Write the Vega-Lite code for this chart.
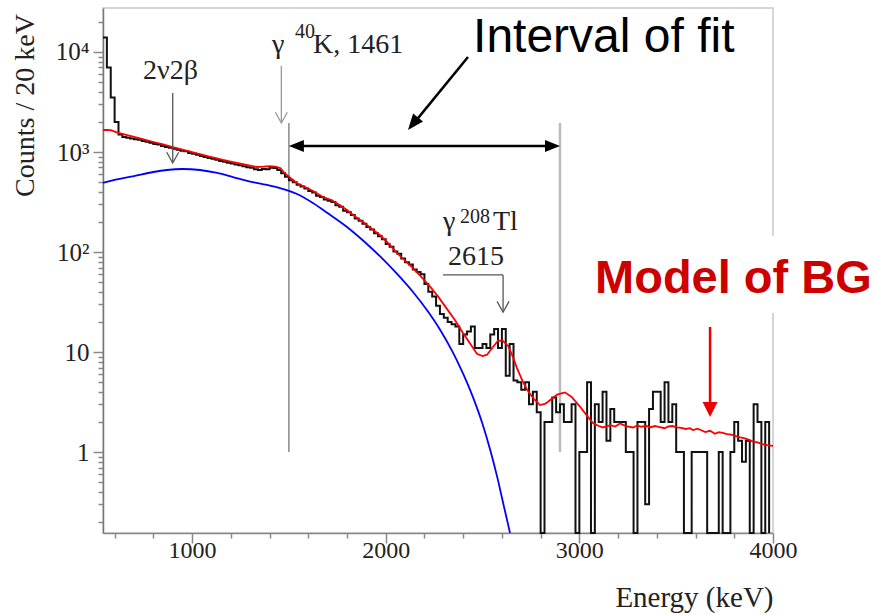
{
  "$schema": "https://vega.github.io/schema/vega-lite/v6.json",
  "width": 670,
  "height": 525,
  "autosize": {"type": "none"},
  "padding": {"left": 103, "top": 8, "right": 103, "bottom": 82},
  "background": "white",
  "config": {
    "view": {"stroke": "#c8c8c8", "strokeWidth": 1.5},
    "axis": {"grid": false}
  },
  "datasets": {
    "hist": [
      {"E":540,"n":14000},{"E":560,"n":7000},{"E":580,"n":3500},{"E":600,"n":2000},{"E":620,"n":1500},
      {"E":640,"n":1410},{"E":660,"n":1385},{"E":680,"n":1365},{"E":700,"n":1345},{"E":720,"n":1325},
      {"E":740,"n":1290},{"E":760,"n":1265},{"E":780,"n":1240},{"E":800,"n":1200},{"E":820,"n":1190},
      {"E":840,"n":1150},{"E":860,"n":1125},{"E":880,"n":1105},{"E":900,"n":1075},{"E":920,"n":1055},
      {"E":940,"n":1030},{"E":960,"n":1015},{"E":980,"n":980},{"E":1000,"n":960},{"E":1020,"n":940},
      {"E":1040,"n":912},{"E":1060,"n":893},{"E":1080,"n":869},{"E":1100,"n":854},{"E":1120,"n":835},
      {"E":1140,"n":811},{"E":1160,"n":797},{"E":1180,"n":782},{"E":1200,"n":768},{"E":1220,"n":749},
      {"E":1240,"n":739},{"E":1260,"n":720},{"E":1280,"n":706},{"E":1300,"n":696},{"E":1320,"n":672},
      {"E":1340,"n":662},{"E":1360,"n":677},{"E":1380,"n":672},{"E":1400,"n":696},{"E":1420,"n":691},
      {"E":1440,"n":662},{"E":1460,"n":614},{"E":1480,"n":566},{"E":1500,"n":523},{"E":1520,"n":499},
      {"E":1540,"n":470},{"E":1560,"n":451},{"E":1580,"n":432},{"E":1600,"n":408},{"E":1620,"n":394},
      {"E":1640,"n":365},{"E":1660,"n":355},{"E":1680,"n":336},{"E":1700,"n":326},{"E":1720,"n":317},
      {"E":1740,"n":293},{"E":1760,"n":283},{"E":1780,"n":259},{"E":1800,"n":250},{"E":1820,"n":235},
      {"E":1840,"n":216},{"E":1860,"n":206},{"E":1880,"n":192},{"E":1900,"n":178},{"E":1920,"n":168},
      {"E":1940,"n":154},{"E":1960,"n":144},{"E":1980,"n":134},{"E":2000,"n":120},{"E":2020,"n":113},
      {"E":2040,"n":101},{"E":2060,"n":96},{"E":2080,"n":86},{"E":2100,"n":79},{"E":2120,"n":75},
      {"E":2140,"n":67},{"E":2160,"n":63},{"E":2180,"n":60},{"E":2200,"n":48},{"E":2220,"n":40},
      {"E":2240,"n":36},{"E":2260,"n":29},{"E":2280,"n":24},{"E":2300,"n":22},{"E":2320,"n":20},
      {"E":2340,"n":19},{"E":2360,"n":18},{"E":2380,"n":12},{"E":2400,"n":15},{"E":2420,"n":16},
      {"E":2440,"n":18},{"E":2460,"n":11},{"E":2480,"n":11},{"E":2500,"n":12},{"E":2520,"n":11},
      {"E":2540,"n":15},{"E":2560,"n":17},{"E":2580,"n":11},{"E":2600,"n":17},{"E":2620,"n":5.8},
      {"E":2640,"n":12},{"E":2660,"n":5.2},{"E":2680,"n":5},{"E":2700,"n":4.2},{"E":2720,"n":5},
      {"E":2740,"n":3},{"E":2760,"n":4},{"E":2780,"n":2.5},{"E":2800,"n":0},{"E":2820,"n":2},
      {"E":2840,"n":2},{"E":2860,"n":3.5},{"E":2880,"n":2.5},{"E":2900,"n":3},{"E":2920,"n":2},
      {"E":2940,"n":2},{"E":2960,"n":3},{"E":2980,"n":0},{"E":3000,"n":1},{"E":3020,"n":1},
      {"E":3040,"n":5},{"E":3060,"n":0},{"E":3080,"n":3},{"E":3100,"n":2},{"E":3120,"n":4},
      {"E":3140,"n":1.3},{"E":3160,"n":2.7},{"E":3180,"n":2},{"E":3200,"n":2},{"E":3220,"n":2},
      {"E":3240,"n":1},{"E":3260,"n":1},{"E":3280,"n":0},{"E":3300,"n":2},{"E":3320,"n":2},
      {"E":3340,"n":0.3},{"E":3360,"n":2.7},{"E":3380,"n":4},{"E":3400,"n":4},{"E":3420,"n":2},
      {"E":3440,"n":5},{"E":3460,"n":2},{"E":3480,"n":3},{"E":3500,"n":1},{"E":3520,"n":1},
      {"E":3540,"n":0},{"E":3560,"n":0},{"E":3580,"n":1},{"E":3600,"n":1},{"E":3620,"n":1},
      {"E":3640,"n":1},{"E":3660,"n":0},{"E":3680,"n":0},{"E":3700,"n":0},{"E":3720,"n":1},
      {"E":3740,"n":0},{"E":3760,"n":0},{"E":3780,"n":1},{"E":3800,"n":2},{"E":3820,"n":1.3},
      {"E":3840,"n":0.8},{"E":3860,"n":1.3},{"E":3880,"n":0},{"E":3900,"n":3},{"E":3920,"n":2},
      {"E":3940,"n":0},{"E":3960,"n":2},{"E":3980,"n":0}
    ],
    "model": [
      {"E":540,"n":1660},{"E":560,"n":1665},{"E":580,"n":1655},{"E":600,"n":1600},{"E":620,"n":1550},
      {"E":660,"n":1480},{"E":700,"n":1413},{"E":750,"n":1334},{"E":800,"n":1259},{"E":850,"n":1189},
      {"E":900,"n":1122},{"E":950,"n":1059},{"E":1000,"n":1000},{"E":1050,"n":944},{"E":1100,"n":891},
      {"E":1160,"n":832},{"E":1200,"n":803},{"E":1250,"n":766},{"E":1300,"n":731},{"E":1335,"n":708},
      {"E":1370,"n":714},{"E":1400,"n":724},{"E":1430,"n":716},{"E":1455,"n":690},{"E":1475,"n":625},
      {"E":1500,"n":565},{"E":1540,"n":490},{"E":1580,"n":450},{"E":1620,"n":412},{"E":1676,"n":355},
      {"E":1720,"n":331},{"E":1760,"n":297},{"E":1800,"n":263},{"E":1840,"n":228},{"E":1883,"n":200},
      {"E":1925,"n":172},{"E":1970,"n":148},{"E":2015,"n":121},{"E":2058,"n":98},{"E":2100,"n":82},
      {"E":2141,"n":69},{"E":2185,"n":56},{"E":2229,"n":45},{"E":2270,"n":36},{"E":2316,"n":27},
      {"E":2360,"n":20.5},{"E":2399,"n":15.5},{"E":2440,"n":11.8},{"E":2471,"n":9.6},{"E":2500,"n":9.1},
      {"E":2523,"n":9.4},{"E":2555,"n":11.3},{"E":2580,"n":13.0},{"E":2605,"n":12.9},{"E":2632,"n":11.5},
      {"E":2655,"n":9.1},{"E":2678,"n":6.9},{"E":2705,"n":5.2},{"E":2730,"n":4.2},{"E":2765,"n":3.4},
      {"E":2797,"n":2.95},{"E":2825,"n":3.05},{"E":2848,"n":3.3},{"E":2885,"n":3.75},{"E":2926,"n":3.95},
      {"E":2960,"n":3.55},{"E":3003,"n":2.85},{"E":3040,"n":2.3},{"E":3070,"n":1.95},{"E":3100,"n":1.82},
      {"E":3122,"n":1.76},{"E":3160,"n":1.86},{"E":3185,"n":1.80},{"E":3210,"n":1.93},{"E":3240,"n":1.82},
      {"E":3277,"n":1.76},{"E":3300,"n":1.84},{"E":3320,"n":1.79},{"E":3345,"n":1.83},{"E":3365,"n":1.76},
      {"E":3390,"n":1.82},{"E":3410,"n":1.78},{"E":3440,"n":1.73},{"E":3460,"n":1.80},{"E":3480,"n":1.82},
      {"E":3504,"n":1.76},{"E":3525,"n":1.74},{"E":3550,"n":1.70},{"E":3570,"n":1.73},{"E":3587,"n":1.66},
      {"E":3610,"n":1.71},{"E":3630,"n":1.65},{"E":3650,"n":1.58},{"E":3675,"n":1.63},{"E":3700,"n":1.52},
      {"E":3720,"n":1.58},{"E":3740,"n":1.55},{"E":3763,"n":1.51},{"E":3785,"n":1.49},{"E":3800,"n":1.46},
      {"E":3830,"n":1.40},{"E":3850,"n":1.38},{"E":3870,"n":1.34},{"E":3897,"n":1.27},{"E":3920,"n":1.25},
      {"E":3945,"n":1.20},{"E":3970,"n":1.17},{"E":4000,"n":1.15}
    ],
    "beta": [
      {"E":540,"n":490},{"E":600,"n":525},{"E":700,"n":575},{"E":800,"n":631},{"E":870,"n":661},
      {"E":950,"n":676},{"E":1041,"n":661},{"E":1130,"n":617},{"E":1211,"n":562},{"E":1300,"n":507},
      {"E":1387,"n":468},{"E":1454,"n":436},{"E":1542,"n":380},{"E":1624,"n":309},{"E":1700,"n":245},
      {"E":1800,"n":178},{"E":1880,"n":132},{"E":1970,"n":90.8},{"E":2060,"n":60},{"E":2141,"n":39.8},
      {"E":2220,"n":25.1},{"E":2280,"n":16.8},{"E":2340,"n":10.5},{"E":2384,"n":7.08},{"E":2420,"n":4.95},
      {"E":2451,"n":3.52},{"E":2500,"n":1.91},{"E":2539,"n":1.06},{"E":2575,"n":0.571},{"E":2610,"n":0.288},
      {"E":2642,"n":0.15}
    ]
  },
  "encoding": {
    "x": {
      "field": "E", "type": "quantitative",
      "scale": {"domain": [540, 4000], "nice": false, "zero": false},
      "axis": {
        "values": [600,800,1000,1200,1400,1600,1800,2000,2200,2400,2600,2800,3000,3200,3400,3600,3800,4000],
        "labelExpr": "datum.value % 1000 === 0 ? format(datum.value, 'd') : ''",
        "tickSize": {"condition": {"test": "datum.value % 1000 === 0", "value": 10}, "value": 5},
        "tickColor": "#888", "tickWidth": 1.5,
        "domainColor": "#888", "domainWidth": 1.5,
        "labelFont": "Liberation Serif", "labelFontSize": 24, "labelColor": "#222",
        "labelPadding": -5, "labelFlush": false, "labelOverlap": false,
        "title": "Energy (keV)",
        "titleFont": "Liberation Serif", "titleFontSize": 29, "titleFontWeight": "normal", "titleColor": "#222",
        "titleX": 670, "titleY": 73, "titleAlign": "right", "titleBaseline": "alphabetic"
      }
    },
    "y": {
      "field": "n", "type": "quantitative",
      "scale": {"type": "log", "domain": [0.155, 27540], "nice": false, "clamp": true},
      "axis": {
        "values": [0.2,0.3,0.4,0.5,0.6,0.7,0.8,0.9,1,2,3,4,5,6,7,8,9,10,20,30,40,50,60,70,80,90,100,200,300,400,500,600,700,800,900,1000,2000,3000,4000,5000,6000,7000,8000,9000,10000,20000],
        "labelExpr": "datum.value === 1 ? '1' : datum.value === 10 ? '10' : datum.value === 100 ? '10²' : datum.value === 1000 ? '10³' : datum.value === 10000 ? '10⁴' : ''",
        "tickSize": {"condition": {"test": "indexof([1,10,100,1000,10000], datum.value) >= 0", "value": 10}, "value": 5},
        "tickColor": "#888", "tickWidth": 1.5,
        "domainColor": "#777", "domainWidth": 1.5,
        "labelFont": "Liberation Serif", "labelFontSize": 25, "labelColor": "#222",
        "labelPadding": 4, "labelOverlap": false, "labelBaseline": "middle",
        "title": "Counts / 20 keV",
        "titleFont": "Liberation Serif", "titleFontSize": 28, "titleFontWeight": "normal", "titleColor": "#222",
        "titleX": -70, "titleY": 97, "titleAngle": -90, "titleAlign": "center", "titleBaseline": "alphabetic"
      }
    }
  },
  "layer": [
    {
      "data": {"values": [{"E": 3050, "E2": 4540, "n": 24.5, "n2": 145}]},
      "mark": {"type": "rect", "fill": "white", "stroke": null},
      "encoding": {"x2": {"field": "E2"}, "y2": {"field": "n2"}}
    },
    {
      "data": {"values": [{"E": 1500, "E2": 1500, "n": 1, "n2": 1950}]},
      "mark": {"type": "rule", "color": "#888", "strokeWidth": 1.5},
      "encoding": {"x2": {"field": "E2"}, "y2": {"field": "n2"}}
    },
    {
      "data": {"values": [{"E": 2900, "E2": 2900, "n": 1, "n2": 1950}]},
      "mark": {"type": "rule", "color": "#bbb", "strokeWidth": 2.5},
      "encoding": {"x2": {"field": "E2"}, "y2": {"field": "n2"}}
    },
    {
      "data": {"name": "beta"},
      "mark": {"type": "line", "color": "#0000ff", "strokeWidth": 1.8, "interpolate": "monotone"},
      "encoding": {}
    },
    {
      "data": {"name": "hist"},
      "mark": {"type": "line", "color": "#111", "strokeWidth": 2, "interpolate": "step-after"},
      "encoding": {}
    },
    {
      "data": {"name": "model"},
      "mark": {"type": "line", "color": "#ff0000", "strokeWidth": 1.8},
      "encoding": {}
    },
    {
      "data": {"values": [
        {"E": 900, "E2": 900, "n": 3890, "n2": 800},
        {"E": 2296, "E2": 2606, "n": 59, "n2": 59},
        {"E": 2606, "E2": 2606, "n": 59, "n2": 25.8}
      ]},
      "mark": {"type": "rule", "color": "#555", "strokeWidth": 1.3},
      "encoding": {"x2": {"field": "E2"}, "y2": {"field": "n2"}}
    },
    {
      "data": {"values": [{"E": 900, "n": 776}, {"E": 2606, "n": 25}]},
      "mark": {"type": "point", "shape": "M-1,-1.8L0,0L1,-1.8", "filled": false, "color": "#555", "strokeWidth": 1.3, "size": 144, "opacity": 1},
      "encoding": {}
    },
    {
      "data": {"values": [{"E": 1461, "E2": 1461, "n": 7244, "n2": 2000}]},
      "mark": {"type": "rule", "color": "#999", "strokeWidth": 1.3},
      "encoding": {"x2": {"field": "E2"}, "y2": {"field": "n2"}}
    },
    {
      "data": {"values": [{"E": 1461, "n": 1950}]},
      "mark": {"type": "point", "shape": "M-1,-1.8L0,0L1,-1.8", "filled": false, "color": "#999", "strokeWidth": 1.3, "size": 144, "opacity": 1},
      "encoding": {}
    },
    {
      "data": {"values": [
        {"E": 1540, "E2": 2860, "n": 1148, "n2": 1148},
        {"E": 2425, "E2": 2150, "n": 8913, "n2": 1990}
      ]},
      "mark": {"type": "rule", "color": "black", "strokeWidth": 2.5},
      "encoding": {"x2": {"field": "E2"}, "y2": {"field": "n2"}}
    },
    {
      "data": {"values": [{"E": 1500, "n": 1148}]},
      "mark": {"type": "point", "shape": "M0,0L2,-0.8L2,0.8Z", "filled": true, "color": "black", "size": 225, "opacity": 1},
      "encoding": {}
    },
    {
      "data": {"values": [{"E": 2900, "n": 1148}]},
      "mark": {"type": "point", "shape": "M0,0L-2,-0.8L-2,0.8Z", "filled": true, "color": "black", "size": 225, "opacity": 1},
      "encoding": {}
    },
    {
      "data": {"values": [{"E": 2115, "n": 1660}]},
      "mark": {"type": "point", "shape": "M0,0L2,-0.8L2,0.8Z", "filled": true, "color": "black", "size": 256, "angle": 309, "opacity": 1},
      "encoding": {}
    },
    {
      "data": {"values": [{"E": 3675, "E2": 3675, "n": 17.8, "n2": 2.95}]},
      "mark": {"type": "rule", "color": "#ee0000", "strokeWidth": 2.5},
      "encoding": {"x2": {"field": "E2"}, "y2": {"field": "n2"}}
    },
    {
      "data": {"values": [{"E": 3675, "n": 2.24}]},
      "mark": {"type": "point", "shape": "M0,0L-1,-2L1,-2Z", "filled": true, "color": "#ee0000", "size": 225, "opacity": 1},
      "encoding": {}
    },
    {
      "data": {"values": [
        {"E": 747, "n": 5370, "t": "2ν2β"},
        {"E": 1413, "n": 9772, "t": "γ"},
        {"E": 1624, "n": 9772, "t": "K, 1461"},
        {"E": 2296, "n": 166, "t": "γ"},
        {"E": 2554, "n": 166, "t": "Tl"},
        {"E": 2322, "n": 74.1, "t": "2615"}
      ]},
      "mark": {"type": "text", "align": "left", "baseline": "alphabetic", "font": "Liberation Serif", "fontSize": 28, "color": "#222"},
      "encoding": {"text": {"field": "t"}}
    },
    {
      "data": {"values": [
        {"E": 1531, "n": 13800, "t": "40"},
        {"E": 2384, "n": 195, "t": "208"}
      ]},
      "mark": {"type": "text", "align": "left", "baseline": "alphabetic", "font": "Liberation Serif", "fontSize": 20, "color": "#222"},
      "encoding": {"text": {"field": "t"}}
    },
    {
      "data": {"values": [{"E": 2451, "n": 10000, "t": "Interval of fit"}]},
      "mark": {"type": "text", "align": "left", "baseline": "alphabetic", "font": "Liberation Sans", "fontSize": 48, "color": "black"},
      "encoding": {"text": {"field": "t"}}
    },
    {
      "data": {"values": [{"E": 3081, "n": 38.9, "t": "Model of BG"}]},
      "mark": {"type": "text", "align": "left", "baseline": "alphabetic", "font": "Liberation Sans", "fontSize": 47, "fontWeight": "bold", "color": "#cc0000"},
      "encoding": {"text": {"field": "t"}}
    }
  ]
}
